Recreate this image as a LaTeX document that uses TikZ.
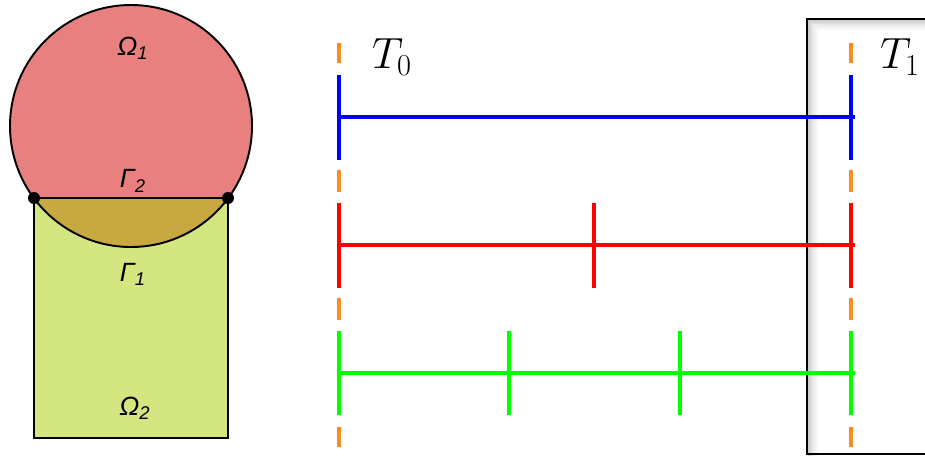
\documentclass[tikz,border=0pt]{standalone}
\usepackage{fontspec}
\newfontfamily\labfont{Liberation Sans}
\usetikzlibrary{positioning}

\definecolor{omegared}{RGB}{232,128,128}
\definecolor{omegagreen}{RGB}{212,230,128}
\definecolor{lensbrown}{RGB}{200,168,64}
\definecolor{tickorange}{RGB}{250,140,40}

\begin{document}
\begin{tikzpicture}[
    x=0.02cm, y=-0.02cm,
    outline/.style={draw=black, line width=1.1pt},
    lab/.style={font=\labfont\itshape\fontsize{15}{17}\selectfont},
    tlab/.style={font=\fontsize{26}{30}\selectfont},
    bar/.style={line width=2.3pt},
    tdash/.style={line width=2.3pt, tickorange},
]
\useasboundingbox (0,0) rectangle (925,457);

% ---- Domains: circle Omega_1 on top of square Omega_2 ----
\coordinate (cc) at (131,126);
\coordinate (chl) at (34,198);
\coordinate (chr) at (228,198);
\fill[omegagreen] (chl) rectangle (228,438);
\fill[omegared] (cc) circle (121);
\begin{scope}
    \clip (cc) circle (121);
    \fill[lensbrown] (chl) rectangle (228,438);
\end{scope}
\draw[outline] (cc) circle (121);
\draw[outline] (chl) rectangle (228,438);
\fill (chl) circle (6);
\fill (chr) circle (6);

\node[lab] (om1) at (133,48) {Ω\textsubscript{1}};
\node[lab] (ga2) at (133,181) {Γ\textsubscript{2}};
\node[lab] (ga1) at (133,274) {Γ\textsubscript{1}};
\node[lab] (om2) at (135,408) {Ω\textsubscript{2}};

% ---- Box round T_1 (with inner shadow) ----
\foreach \d/\g in {1/40, 2/32, 3/24, 4/17, 5/11, 6/6} {
    \draw[gray!\g, line width=1.2pt] (807+\d*1.6,456) -- (807+\d*1.6,19+\d*1.6) -- (930,19+\d*1.6);
}
\draw[black, line width=1.4pt] (930,19) -- (807,19) -- (807,454) -- (930,454);

% ---- Time levels ----
\coordinate (t0) at (339,0);
\coordinate (t1) at (851,0);
\coordinate (rowb) at (0,117);
\coordinate (rowr) at (0,245);
\coordinate (rowg) at (0,373);

\foreach \ya/\yb in {43/63, 170/192, 298/320, 427/447} {
    \draw[tdash] (339,\ya) -- (339,\yb);
    \draw[tdash] (851,\ya) -- (851,\yb);
}

% one step
\draw[bar, blue] (t0 |- rowb) -- ([xshift=2pt]t1 |- rowb);
\draw[bar, blue] (t0 |- rowb) ++(0,-42) -- ++(0,85);
\draw[bar, blue] (t1 |- rowb) ++(0,-42) -- ++(0,85);

% two steps
\draw[bar, red] (t0 |- rowr) -- ([xshift=2pt]t1 |- rowr);
\draw[bar, red] (t0 |- rowr) ++(0,-42) -- ++(0,85);
\draw[bar, red] (594,245) ++(0,-42) -- ++(0,85);
\draw[bar, red] (t1 |- rowr) ++(0,-42) -- ++(0,85);

% three steps
\draw[bar, green] (t0 |- rowg) -- ([xshift=2pt]t1 |- rowg);
\draw[bar, green] (t0 |- rowg) ++(0,-42) -- ++(0,84);
\draw[bar, green] (509,373) ++(0,-42) -- ++(0,84);
\draw[bar, green] (680,373) ++(0,-42) -- ++(0,84);
\draw[bar, green] (t1 |- rowg) ++(0,-42) -- ++(0,84);

\node[tlab] (t0lab) at (392,57) {$T_0$};
\node[tlab] (t1lab) at (900,57) {$T_1$};

\end{tikzpicture}
\end{document}
